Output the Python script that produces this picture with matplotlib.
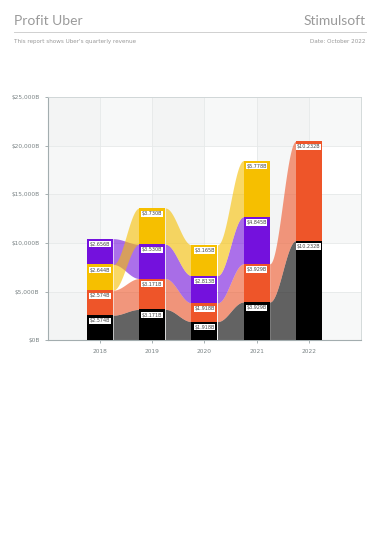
import numpy as np
import matplotlib
matplotlib.use("Agg")
import matplotlib.pyplot as plt
from matplotlib.ticker import FuncFormatter

years = ["2018", "2019", "2020", "2021", "2022"]
# revenue in millions of dollars (labels show billions)
black = [2574, 3171, 1918, 3929, 10232]
red = [2574, 3171, 1918, 3929, 10232]
yellow = [2644, 3730, 3165, 5778, np.nan]
purple = [2656, 3530, 2813, 4845, np.nan]

series = [black, red, yellow, purple]
colors = ["#000000", "#ee5529", "#f6bf00", "#7411dd"]

fig = plt.figure(figsize=(3.8, 5.4), dpi=100)
ax = fig.add_axes([0.126, 0.37, 0.824, 0.45])

n = len(years)
bw = 0.5

# stack positions per year, smallest at bottom
bottoms = np.full((len(series), n), np.nan)
tops = np.full((len(series), n), np.nan)
for j in range(n):
    order = sorted([k for k in range(len(series)) if not np.isnan(series[k][j])],
                   key=lambda k: (series[k][j], k))
    base = 0
    for k in order:
        bottoms[k, j] = base
        tops[k, j] = base + series[k][j]
        base += series[k][j]

# background interlacing
for i in range(-1, 5, 2):
    ax.axvspan(i, i + 1, color="#f1f3f3", alpha=0.6, lw=0, zorder=0)
for v in [0, 10000, 20000]:
    ax.axhspan(v, v + 5000, color="#f1f3f3", alpha=0.5, lw=0, zorder=0)
ax.grid(True, color="#e6e9e9", lw=0.6, zorder=0.5)
ax.set_axisbelow(True)

# ribbons
draw_order = [0, 1, 3, 2]
for k in draw_order:
    for j in range(n - 1):
        if np.isnan(tops[k, j]) or np.isnan(tops[k, j + 1]):
            continue
        x0, x1 = j + bw / 2, j + 1 - bw / 2
        t = np.linspace(0, 1, 60)
        s = (1 - np.cos(np.pi * t)) / 2
        xs = x0 + (x1 - x0) * t
        lo = bottoms[k, j] + (bottoms[k, j + 1] - bottoms[k, j]) * s
        hi = tops[k, j] + (tops[k, j + 1] - tops[k, j]) * s
        ax.fill_between(xs, lo, hi, color=colors[k], alpha=0.6, lw=0, zorder=2)

# bars and labels
for k in range(len(series)):
    for j in range(n):
        if np.isnan(tops[k, j]):
            continue
        ax.bar(j, series[k][j], bottom=bottoms[k, j], width=bw, color=colors[k],
               lw=0, zorder=3)
        ax.text(j, tops[k, j] - 330, "${:.3f}B".format(series[k][j] / 1000),
                ha="center", va="top", fontsize=3.5, color="#444444", zorder=4,
                bbox=dict(boxstyle="square,pad=0.12", fc="white", ec="none"))

ax.set_xlim(-1, 5)
ax.set_ylim(0, 25000)
ax.set_xticks(range(n))
ax.set_xticklabels(years)
ax.set_yticks(range(0, 25001, 5000))
ax.yaxis.set_major_formatter(FuncFormatter(lambda v, p: "${:,.0f}B".format(v)))
ax.tick_params(axis="both", labelsize=4.2, colors="#9aa5a7", length=2.5, width=0.6,
               labelcolor="#7a8385")
for side in ["top", "right"]:
    ax.spines[side].set_color("#cdd4d5")
    ax.spines[side].set_linewidth(0.6)
for side in ["left", "bottom"]:
    ax.spines[side].set_color("#a3adaf")
    ax.spines[side].set_linewidth(0.8)

# header
fig.text(0.037, 0.962, "Profit Uber", fontsize=10, color="#9a9a9a", ha="left",
         va="center", family="Lato")
fig.text(0.963, 0.962, "Stimulsoft", fontsize=10, color="#9a9a9a", ha="right",
         va="center", family="Lato")
fig.add_artist(plt.Line2D([0.037, 0.963], [0.94, 0.94], color="#d0d0d0", lw=0.7))
fig.text(0.037, 0.924, "This report shows Uber's quarterly revenue", fontsize=4.1,
         color="#999999", ha="left", va="center")
fig.text(0.963, 0.924, "Date: October 2022", fontsize=4.1, color="#999999",
         ha="right", va="center")

fig.savefig("out.png", dpi=100, facecolor="white")
